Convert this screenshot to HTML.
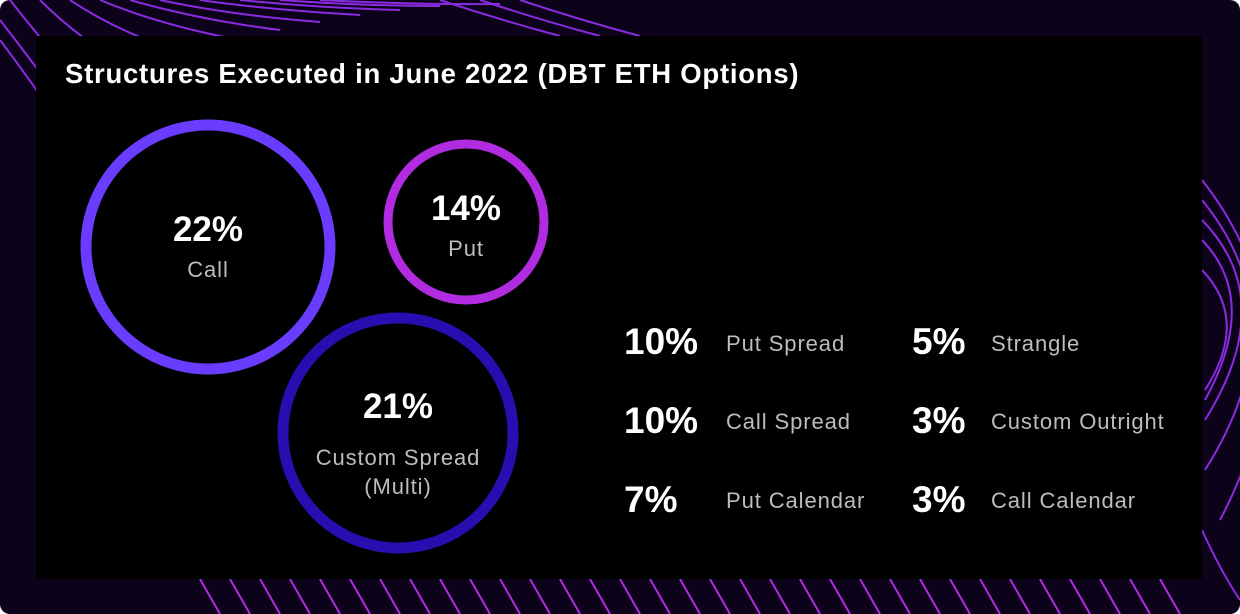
<!DOCTYPE html>
<html><head><style>
html,body{margin:0;padding:0;background:#fff;}
.wrap{position:relative;width:1240px;height:614px;background:#0c0219;border-radius:10px;overflow:hidden;font-family:"Liberation Sans",sans-serif;}
svg.bg{position:absolute;left:0;top:0;}
.panel{position:absolute;left:36px;top:36px;width:1166px;height:543px;background:#000;}
.t{position:absolute;white-space:nowrap;}
.title{left:65px;top:58px;font-size:27.5px;font-weight:bold;color:#fff;letter-spacing:0.75px;}
.pct{font-weight:bold;color:#fff;}
.lab{color:#bdbdbd;font-size:22px;letter-spacing:0.9px;}
.c{text-align:center;transform:translateX(-50%);}
</style></head><body>
<div class="wrap">
<svg class="bg" width="1240" height="614">
<g fill="none" stroke="#8a2be2" stroke-width="2">
<path d="M0 40 Q60 120 110 200"/><path d="M0 20 Q70 110 130 200"/><path d="M10 0 Q80 90 150 150"/>
<path d="M40 0 Q100 60 180 90"/><path d="M70 0 Q130 40 210 60"/><path d="M100 0 Q160 25 240 40"/>
<path d="M130 0 Q200 20 280 30"/><path d="M160 0 Q230 15 320 22"/><path d="M200 0 Q270 10 360 15"/>
<path d="M240 0 Q320 8 400 10"/><path d="M280 0 Q360 6 440 6"/><path d="M320 0 Q420 5 500 4"/>
<path d="M440 0 Q500 20 560 36"/><path d="M480 0 Q540 20 600 36"/><path d="M520 0 Q580 20 640 36"/>
<path d="M1202 220 Q1280 300 1205 420"/><path d="M1202 240 Q1260 300 1205 400"/><path d="M1202 270 Q1250 320 1205 390"/>
<path d="M1202 200 Q1300 320 1205 470"/><path d="M1202 180 Q1320 330 1220 520"/><path d="M1202 530 Q1220 570 1240 600"/>
</g>
<g stroke="#b02be0" stroke-width="2">
<line x1="200" y1="579" x2="220" y2="614"/><line x1="230" y1="579" x2="250" y2="614"/><line x1="260" y1="579" x2="280" y2="614"/>
<line x1="290" y1="579" x2="310" y2="614"/><line x1="320" y1="579" x2="340" y2="614"/><line x1="350" y1="579" x2="370" y2="614"/>
<line x1="380" y1="579" x2="400" y2="614"/><line x1="410" y1="579" x2="430" y2="614"/><line x1="440" y1="579" x2="460" y2="614"/>
<line x1="470" y1="579" x2="490" y2="614"/><line x1="500" y1="579" x2="520" y2="614"/><line x1="530" y1="579" x2="550" y2="614"/>
<line x1="560" y1="579" x2="580" y2="614"/><line x1="590" y1="579" x2="610" y2="614"/><line x1="620" y1="579" x2="640" y2="614"/>
<line x1="650" y1="579" x2="670" y2="614"/><line x1="680" y1="579" x2="700" y2="614"/><line x1="710" y1="579" x2="730" y2="614"/>
<line x1="740" y1="579" x2="760" y2="614"/><line x1="770" y1="579" x2="790" y2="614"/><line x1="800" y1="579" x2="820" y2="614"/>
<line x1="830" y1="579" x2="850" y2="614"/><line x1="860" y1="579" x2="880" y2="614"/><line x1="890" y1="579" x2="910" y2="614"/>
<line x1="920" y1="579" x2="940" y2="614"/><line x1="950" y1="579" x2="970" y2="614"/><line x1="980" y1="579" x2="1000" y2="614"/>
<line x1="1010" y1="579" x2="1030" y2="614"/><line x1="1040" y1="579" x2="1060" y2="614"/><line x1="1070" y1="579" x2="1090" y2="614"/>
<line x1="1100" y1="579" x2="1120" y2="614"/><line x1="1130" y1="579" x2="1150" y2="614"/><line x1="1160" y1="579" x2="1180" y2="614"/>
</g>
</svg>
<div class="panel"></div>
<svg class="bg" width="1240" height="614">
<circle cx="208" cy="247" r="122" fill="none" stroke="#6a3cff" stroke-width="11"/>
<circle cx="466" cy="222" r="78" fill="none" stroke="#b12be0" stroke-width="9"/>
<circle cx="398" cy="433" r="115" fill="none" stroke="#2a0db0" stroke-width="11"/>
</svg>
<div class="t title">Structures Executed in June 2022 (DBT ETH Options)</div>
<div class="t c pct" style="left:208px;top:210px;font-size:35px;">22%</div>
<div class="t c lab" style="left:208px;top:257px;">Call</div>
<div class="t c pct" style="left:466px;top:189px;font-size:35px;">14%</div>
<div class="t c lab" style="left:466px;top:236px;">Put</div>
<div class="t c pct" style="left:398px;top:387px;font-size:35px;">21%</div>
<div class="t c lab" style="left:398px;top:443px;line-height:29px;text-align:center;">Custom Spread<br>(Multi)</div>
<div class="t pct" style="left:624px;top:321px;font-size:37px;">10%</div>
<div class="t lab" style="left:726px;top:331px;">Put Spread</div>
<div class="t pct" style="left:624px;top:400px;font-size:37px;">10%</div>
<div class="t lab" style="left:726px;top:409px;">Call Spread</div>
<div class="t pct" style="left:624px;top:479px;font-size:37px;">7%</div>
<div class="t lab" style="left:726px;top:488px;">Put Calendar</div>
<div class="t pct" style="left:912px;top:321px;font-size:37px;">5%</div>
<div class="t lab" style="left:991px;top:331px;">Strangle</div>
<div class="t pct" style="left:912px;top:400px;font-size:37px;">3%</div>
<div class="t lab" style="left:991px;top:409px;">Custom Outright</div>
<div class="t pct" style="left:912px;top:479px;font-size:37px;">3%</div>
<div class="t lab" style="left:991px;top:488px;">Call Calendar</div>
</div>
</body></html>
